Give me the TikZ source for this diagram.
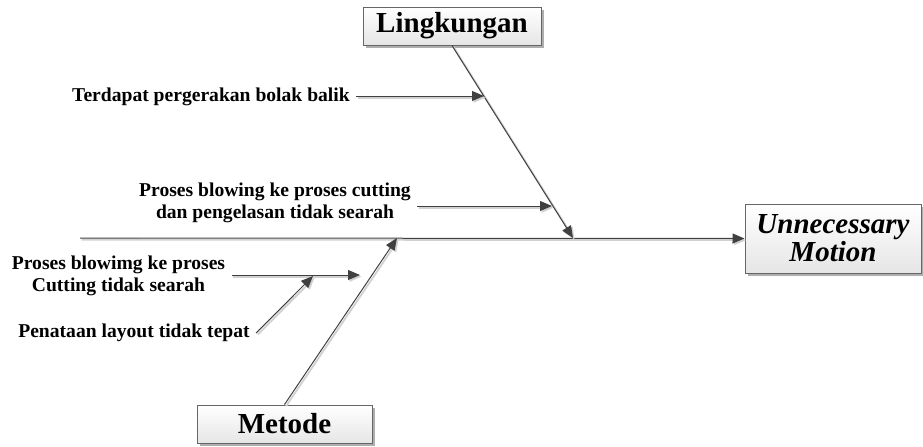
\documentclass[tikz,border=0pt]{standalone}
\usepackage{fontspec}
\setmainfont{Liberation Serif}
\usepackage{tikz}
\usetikzlibrary{arrows.meta,shadows}

\begin{document}
\begin{tikzpicture}[
  x=0.5pt, y=-0.5pt,
  >={Triangle[length=6pt,width=5pt]},
  line/.style={draw=black!75, line width=0.5pt,
    preaction={draw=black!18, line width=0.9pt, transform canvas={shift={(0.8pt,-0.8pt)}}}},
  box/.style={draw=black!60, line width=0.5pt, top color=white, bottom color=black!10,
    drop shadow={shadow xshift=1.5pt, shadow yshift=-1.5pt, fill=black!45, opacity=0.7},
    font=\fontsize{14.5}{14.5}\selectfont\bfseries, inner sep=2pt},
  cause/.style={font=\fontsize{9.8}{10.8}\selectfont\bfseries, align=center, inner sep=3pt}
]
\useasboundingbox (0,0) rectangle (923,446);

% effect and spine
\node[box, minimum width=88pt, minimum height=34.5pt, align=center, font=\fontsize{14.5}{14}\selectfont\bfseries\itshape] (effect) at (833,238.5) {Unnecessary\\Motion};
\coordinate (tail) at (80,238);
\coordinate (j1) at (573,238);
\coordinate (j2) at (397,238);
\draw[line,->] (tail) -- (effect.west);

% categories
\node[box, minimum width=89pt, minimum height=19pt] (lingk) at (452,26) {Lingkungan};
\node[box, minimum width=87.5pt, minimum height=19pt] (metode) at (284.5,424) {Metode};
\draw[line,->] (lingk.south) -- (j1);
\draw[line,->] (metode.north) -- (j2);

% causes
\node[cause] (c1) at (211,97) {Terdapat pergerakan bolak balik};
\node[cause] (c2) at (275,203) {Proses blowing ke proses cutting\\dan pengelasan tidak searah};
\node[cause] (c3) at (118.5,276) {Proses blowimg ke proses\\Cutting tidak searah};
\node[cause] (c4) at (134,333) {Penataan layout tidak tepat};

\coordinate (k1) at (484,96);
\coordinate (k2) at (552,206);
\coordinate (m1) at (360,275);
\coordinate (m2) at (313,276);

\draw[line,->] (c1.east |- k1) -- (k1);
\draw[line,->] (c2.east |- k2) -- (k2);
\draw[line,->] (c3.east |- m1) -- (m1);
\draw[line,->] (c4.east) -- (m2);
\end{tikzpicture}
\end{document}
